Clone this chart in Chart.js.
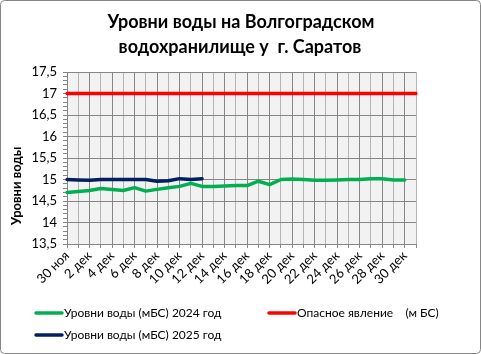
<!DOCTYPE html>
<html>
<head>
<meta charset="utf-8">
<script src="https://cdn.jsdelivr.net/npm/chart.js@4"></script>
<style>
  html, body { margin: 0; padding: 0; background: #fff; }
  #wrap { position: relative; width: 481px; height: 354px; }
</style>
</head>
<body>
<div id="wrap"><canvas id="levelChart" width="481" height="354"></canvas></div>
<script>
// data
const days = ['30 ноя', '1 дек', '2 дек', '3 дек', '4 дек', '5 дек', '6 дек', '7 дек',
              '8 дек', '9 дек', '10 дек', '11 дек', '12 дек', '13 дек', '14 дек', '15 дек',
              '16 дек', '17 дек', '18 дек', '19 дек', '20 дек', '21 дек', '22 дек', '23 дек',
              '24 дек', '25 дек', '26 дек', '27 дек', '28 дек', '29 дек', '30 дек', '31 дек'];

const level2024 = [14.70, 14.72, 14.745, 14.79, 14.77, 14.745, 14.81, 14.73, 14.77, 14.81,
                   14.84, 14.91, 14.84, 14.84, 14.85, 14.86, 14.86, 14.96, 14.88, 15.00,
                   15.01, 15.00, 14.98, 14.98, 14.99, 15.00, 15.00, 15.02, 15.02, 14.99, 14.99];

const level2025 = [15.00, 14.99, 14.98, 15.00, 15.00, 15.00, 15.00, 15.00, 14.96, 14.97,
                   15.02, 15.00, 15.02];

const dangerLevel = [17, 17, 17, 17, 17, 17, 17, 17, 17, 17, 17, 17, 17, 17, 17, 17,
                     17, 17, 17, 17, 17, 17, 17, 17, 17, 17, 17, 17, 17, 17, 17, 17];

const titleLines = ['Уровни воды на Волгоградском', 'водохранилище у  г. Саратов'];
const yTitle = 'Уровни воды';

const GRID = '#868686';
const GRID_LIGHT = '#b4b4b4';
const FONT = 'Lato, "Open Sans", sans-serif';

// background of plot, titles, frame and legend
const decor = {
    id: 'decor',
    beforeDraw(chart) {
        const { ctx, chartArea: a } = chart;
        ctx.save();
        ctx.fillStyle = '#f2f2f2';
        ctx.fillRect(a.left, a.top, a.right - a.left, a.bottom - a.top);
        ctx.restore();
    },
    afterDraw(chart) {
        const ctx = chart.ctx;
        ctx.save();
        // outer frame
        ctx.strokeStyle = GRID;
        ctx.lineWidth = 1;
        ctx.beginPath();
        ctx.roundRect(0.5, 0.5, 480, 353, 4);
        ctx.stroke();

        // title
        ctx.fillStyle = '#000';
        ctx.textAlign = 'center';
        ctx.textBaseline = 'middle';
        ctx.font = 'bold 18px ' + FONT;
        ctx.fillText(titleLines[0], 241, 22);
        ctx.fillText(titleLines[1], 240, 47);

        // y axis title
        ctx.save();
        ctx.translate(17, 186);
        ctx.rotate(-Math.PI / 2);
        ctx.font = 'bold 13px ' + FONT;
        ctx.fillText(yTitle, 0, 0);
        ctx.restore();

        // legend
        const spots = [[35, 313], [268, 313], [35, 335]];
        ctx.font = '12px ' + FONT;
        ctx.textAlign = 'left';
        chart.data.datasets.forEach((ds, i) => {
            const [x, y] = spots[i];
            ctx.strokeStyle = ds.borderColor;
            ctx.lineWidth = 3.5;
            ctx.lineCap = 'round';
            ctx.beginPath();
            ctx.moveTo(x + 1, y);
            ctx.lineTo(x + 27, y);
            ctx.stroke();
            ctx.fillStyle = '#000';
            ctx.fillText(ds.label, x + 29, y);
        });
        ctx.restore();
    }
};

new Chart(document.getElementById('levelChart'), {
    type: 'line',
    data: {
        labels: days,
        datasets: [
            {
                label: 'Уровни воды (мБС) 2024 год',
                data: level2024,
                borderColor: '#00b050',
                borderWidth: 3.5
            },
            {
                label: 'Опасное явление    (м БС)',
                data: dangerLevel,
                borderColor: '#ff0000',
                borderWidth: 3.5
            },
            {
                label: 'Уровни воды (мБС) 2025 год',
                data: level2025,
                borderColor: '#002060',
                borderWidth: 3.5
            }
        ]
    },
    options: {
        responsive: false,
        animation: false,
        elements: {
            point: { radius: 0, hoverRadius: 0 },
            line: { tension: 0, borderCapStyle: 'round', borderJoinStyle: 'round' }
        },
        layout: { padding: { top: 72, left: 30, right: 65, bottom: 0 } },
        plugins: {
            legend: { display: false },
            title: { display: false },
            tooltip: { enabled: false }
        },
        scales: {
            x: {
                offset: false,
                afterFit: (s) => { s.height = 110; },
                grid: {
                    color: (c) => (c.index % 2 === 0 ? GRID : GRID_LIGHT),
                    tickColor: GRID,
                    tickLength: 4,
                    lineWidth: 1
                },
                border: { color: GRID },
                ticks: {
                    autoSkip: false,
                    maxRotation: 45,
                    minRotation: 45,
                    padding: 0,
                    color: '#000',
                    font: { family: FONT, size: 13 },
                    callback: (v, i) => (i % 2 === 0 ? days[i] : '')
                }
            },
            y: {
                min: 13.5,
                max: 17.5,
                afterFit: (s) => { s.width = 37; },
                grid: {
                    color: (c) => {
                        const v = c.tick ? c.tick.value : 0;
                        return Math.abs(v * 2 - Math.round(v * 2)) < 1e-6 ? GRID : 'rgba(0,0,0,0)';
                    },
                    tickColor: GRID,
                    tickLength: 4
                },
                border: { color: GRID },
                ticks: {
                    stepSize: 0.1,
                    autoSkip: false,
                    padding: 6,
                    color: '#000',
                    font: { family: FONT, size: 13 },
                    callback: (v) => {
                        if (Math.abs(v * 2 - Math.round(v * 2)) > 1e-6) return '';
                        return String(Math.round(v * 2) / 2).replace('.', ',');
                    }
                }
            }
        }
    },
    plugins: [decor]
});
</script>
</body>
</html>
